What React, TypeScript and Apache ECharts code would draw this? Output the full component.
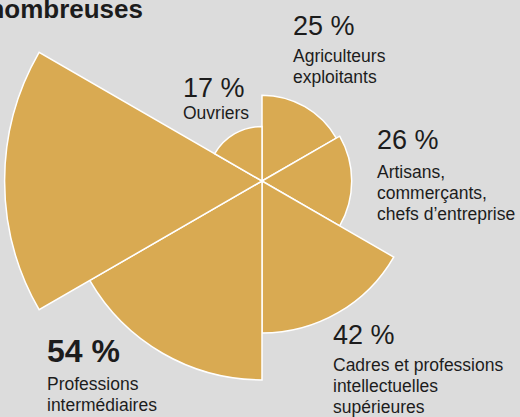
import React, { useEffect, useRef } from "react";
import * as echarts from "echarts";

// Categories clockwise from 12 o'clock
const categories = [
  "Agriculteurs exploitants",
  "Artisans, commerçants, chefs d’entreprise",
  "Cadres et professions intellectuelles supérieures",
  "Professions intermédiaires",
  "Employés",
  "Ouvriers",
];
const values = [25, 26, 42, 54, 69, 17];
const labelLines = [
  ["Agriculteurs", "exploitants"],
  ["Artisans,", "commerçants,", "chefs d’entreprise"],
  ["Cadres et professions", "intellectuelles", "supérieures"],
  ["Professions", "intermédiaires"],
  [],
  ["Ouvriers"],
];
const highlighted = [false, false, false, true, false, false];
const titleText = "nombreuses";

// layout of the labels (x, baseline of value line, baseline of first name line)
const labelLayout = [
  { x: 293, vBase: 34, nBase: 61 },
  { x: 377, vBase: 148, nBase: 177 },
  { x: 333, vBase: 343, nBase: 370 },
  { x: 47, vBase: 361, nBase: 389 },
  null,
  { x: 183, vBase: 96, nBase: 118 },
];

const FONT = "'Liberation Sans', Arial, sans-serif";
const TEXT = "#1c1c1c";
const BG = "#dcdcdc";
const GOLD = "#d9aa52";

function textEl(text: string, x: number, baseline: number, fs: number, bold = false, align = "left") {
  return {
    type: "text",
    x,
    y: baseline - 0.8 * fs,
    silent: true,
    style: {
      text,
      fontSize: fs,
      fontFamily: FONT,
      fontWeight: bold ? "bold" : "normal",
      fill: TEXT,
      align,
      verticalAlign: "top",
    },
  };
}

export default function App() {
  const ref = useRef<HTMLDivElement>(null);
  useEffect(() => {
    if (!ref.current) return;
    const chart = echarts.init(ref.current, undefined, { renderer: "svg" });
    const graphics: any[] = [];
    graphics.push(textEl(titleText, 143, 17, 26, true, "right"));
    values.forEach((v, i) => {
      const lay = labelLayout[i];
      if (!lay) return;
      const bold = highlighted[i];
      graphics.push(textEl(`${v} %`, lay.x, lay.vBase, bold ? 32 : 27, bold));
      labelLines[i].forEach((line, j) => {
        graphics.push(textEl(line, lay.x, lay.nBase + j * 21, 17.5));
      });
    });
    chart.setOption({
      animation: false,
      backgroundColor: BG,
      polar: { center: [262, 181], radius: 300.3 },
      angleAxis: {
        type: "category",
        data: categories,
        startAngle: 90,
        clockwise: true,
        axisLine: { show: false },
        axisTick: { show: false },
        axisLabel: { show: false },
        splitLine: { show: false },
      },
      radiusAxis: {
        type: "value",
        min: 3,
        max: 80,
        startValue: 3,
        axisLine: { show: false },
        axisTick: { show: false },
        axisLabel: { show: false },
        splitLine: { show: false },
      },
      series: [
        {
          type: "bar",
          coordinateSystem: "polar",
          data: values,
          barCategoryGap: "0%",
          itemStyle: { color: GOLD, borderColor: "#ffffff", borderWidth: 1.5 },
        },
      ],
      graphic: graphics,
    });
    return () => chart.dispose();
  }, []);
  return (
    <div
      ref={ref}
      style={{ position: "fixed", left: 0, top: 0, width: 520, height: 417, background: BG }}
    />
  );
}
